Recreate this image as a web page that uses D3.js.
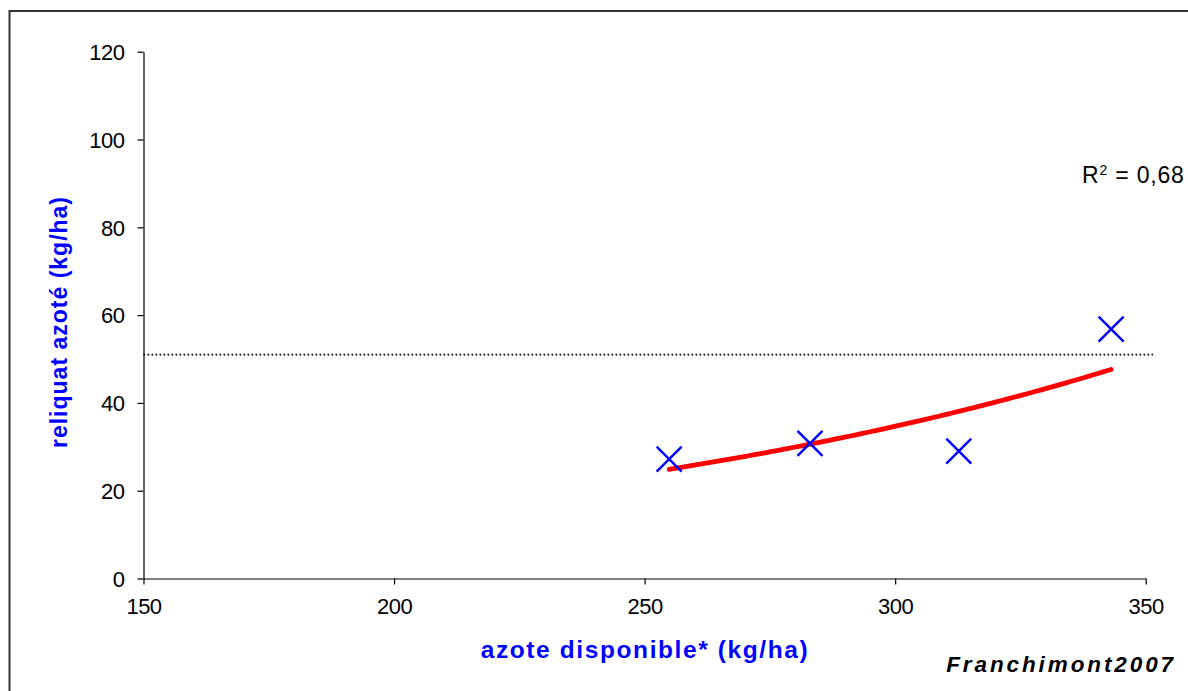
<!DOCTYPE html>
<html>
<head>
<meta charset="utf-8">
<script src="https://cdn.jsdelivr.net/npm/d3@7"></script>
<style>
  html, body { margin: 0; padding: 0; background: #fff; }
  svg { display: block; }
  text { font-family: "Liberation Sans", Arial, sans-serif; }
</style>
</head>
<body>
<svg id="chart" width="1188" height="691"></svg>
<script>
// Measured plots: available nitrogen vs residual nitrogen (kg/ha)
const azoteDisponible = [254.9, 283.0, 312.7, 343.1];
const reliquatAzote   = [27.2, 30.8, 29.0, 56.8];
const seuil = 51;                       // reference level (dotted line)
const xTicks = [150, 200, 250, 300, 350];
const yTicks = [0, 20, 40, 60, 80, 100, 120];
const r2Label = "0,68";

const svg = d3.select("#chart");
const W = 1188, H = 691;

// outer frame
svg.append("rect")
  .attr("x", 9.5).attr("y", 11).attr("width", W + 20).attr("height", H + 20)
  .attr("fill", "none").attr("stroke", "#333").attr("stroke-width", 2);

const x = d3.scaleLinear().domain([150, 350]).range([143.5, 1145.7]);
const y = d3.scaleLinear().domain([0, 120]).range([578.5, 51.7]);

// axes
const gx = svg.append("g").attr("transform", `translate(0,${y(0)})`)
  .call(d3.axisBottom(x).tickValues(xTicks).tickSize(6).tickSizeOuter(0).tickPadding(10));
const gy = svg.append("g").attr("transform", `translate(${x(150)},0)`)
  .call(d3.axisLeft(y).tickValues(yTicks).tickSize(6).tickSizeOuter(0).tickPadding(13));

[gx, gy].forEach(g => {
  g.select(".domain").attr("stroke", "#000").attr("stroke-width", 1.2);
  g.selectAll(".tick line").attr("stroke", "#000").attr("stroke-width", 1.2);
  g.selectAll(".tick text")
    .attr("fill", "#000")
    .style("font-family", "'Liberation Sans', Arial, sans-serif")
    .style("font-size", "22px")
    .style("letter-spacing", "-0.5px");
});
gy.selectAll(".tick text").attr("dy", "0.35em");
gx.selectAll(".tick text").attr("dy", "0.9em");

// dotted reference line
svg.append("line")
  .attr("x1", x(150)).attr("x2", 1153)
  .attr("y1", y(seuil)).attr("y2", y(seuil))
  .attr("stroke", "#000").attr("stroke-width", 1.7)
  .attr("stroke-dasharray", "1.7,2.3");

// exponential trend (least squares on ln y)
const n = azoteDisponible.length;
const mx = d3.mean(azoteDisponible);
const ly = reliquatAzote.map(Math.log);
const my = d3.mean(ly);
let sxy = 0, sxx = 0;
for (let i = 0; i < n; i++) {
  sxy += (azoteDisponible[i] - mx) * (ly[i] - my);
  sxx += (azoteDisponible[i] - mx) ** 2;
}
const k = sxy / sxx;
const a = Math.exp(my - k * mx);
const x0 = d3.min(azoteDisponible), x1 = d3.max(azoteDisponible);
const trend = d3.range(0, 101).map(i => {
  const xv = x0 + (x1 - x0) * i / 100;
  return [xv, a * Math.exp(k * xv)];
});
svg.append("path")
  .datum(trend)
  .attr("d", d3.line().x(d => x(d[0])).y(d => y(d[1])))
  .attr("fill", "none").attr("stroke", "#ff0000")
  .attr("stroke-width", 4.8).attr("stroke-linecap", "round");

// data markers (crosses)
const s = 12.5;
const pts = svg.append("g").selectAll("g")
  .data(azoteDisponible.map((v, i) => [v, reliquatAzote[i]]))
  .join("g")
  .attr("transform", d => `translate(${x(d[0])},${y(d[1])})`);
pts.append("path")
  .attr("d", `M${-s},${-s}L${s},${s}M${-s},${s}L${s},${-s}`)
  .attr("stroke", "#0000ff").attr("stroke-width", 2.4).attr("fill", "none");

// R² label
const r2 = svg.append("text")
  .attr("x", 1082).attr("y", 183)
  .style("font-size", "23px").style("letter-spacing", "0.8px").attr("fill", "#000");
r2.append("tspan").text("R");
r2.append("tspan").text("2").attr("dy", -8).style("font-size", "14px");
r2.append("tspan").text(" = " + r2Label).attr("dy", 8);

// axis titles
svg.append("text")
  .attr("x", 645).attr("y", 658)
  .attr("text-anchor", "middle")
  .style("font-size", "24.5px").style("font-weight", "bold")
  .style("letter-spacing", "1.6px")
  .attr("fill", "#0000ff")
  .text("azote disponible* (kg/ha)");

svg.append("text")
  .attr("transform", "translate(67,322) rotate(-90)")
  .attr("text-anchor", "middle")
  .style("font-size", "23px").style("font-weight", "bold")
  .style("letter-spacing", "1.0px")
  .attr("fill", "#0000ff")
  .text("reliquat azoté (kg/ha)");

// source
svg.append("text")
  .attr("x", 1176).attr("y", 672)
  .attr("text-anchor", "end")
  .style("font-size", "22.5px").style("font-weight", "bold").style("font-style", "italic")
  .style("letter-spacing", "2.9px")
  .attr("fill", "#000")
  .text("Franchimont2007");
</script>
</body>
</html>
